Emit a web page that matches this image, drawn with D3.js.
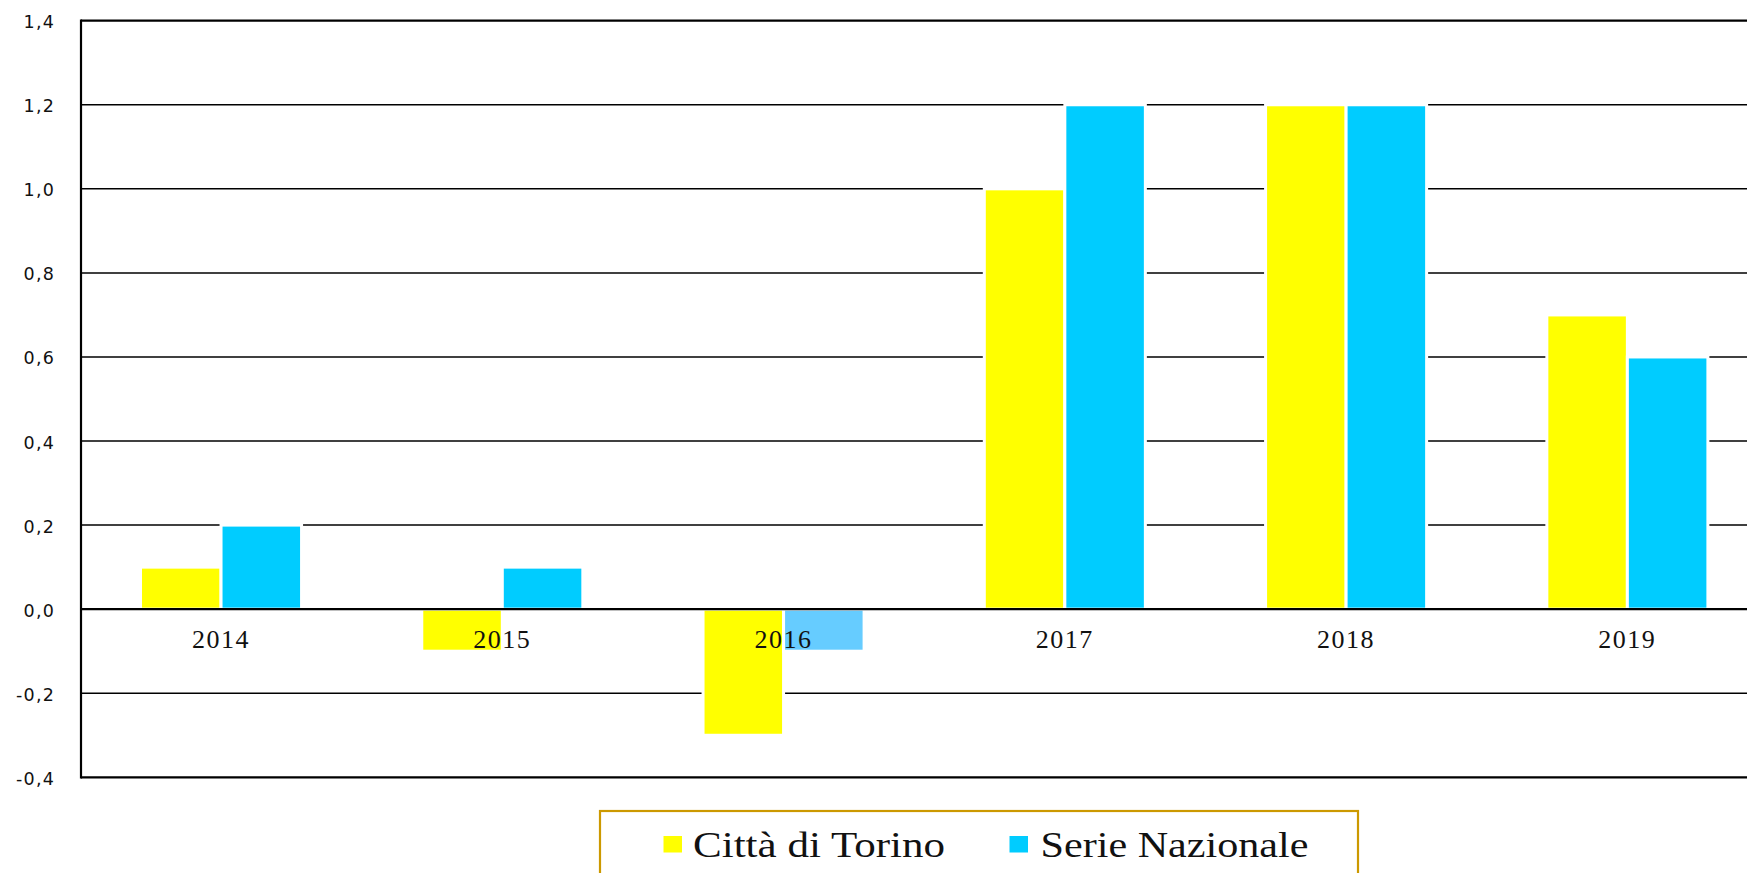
<!DOCTYPE html>
<html>
<head>
<meta charset="utf-8">
<script src="https://cdn.jsdelivr.net/npm/d3@7/dist/d3.min.js"></script>
<style>
  html, body { margin: 0; padding: 0; background: #fff; }
  svg { display: block; }
</style>
</head>
<body>
<svg id="chart" width="1747" height="873"></svg>
<script>
// ---- data ----
const years = ["2014", "2015", "2016", "2017", "2018", "2019"];
const torino = [0.1, -0.1, -0.3, 1.0, 1.2, 0.7];
const nazionale = [0.2, 0.1, -0.1, 1.2, 1.2, 0.6];
const seriesNames = ["Città di Torino", "Serie Nazionale"];
const yTicks = [-0.4, -0.2, 0.0, 0.2, 0.4, 0.6, 0.8, 1.0, 1.2, 1.4];

(function () {
const colors = { pos: ["#FFFF00", "#00CCFF"], neg: ["#FFFF00", "#66CCFF"] };

const svg = d3.select("#chart");
const W = 1747;

const plotL = 81, plotR = 1768, plotT = 20.7, plotB = 777.3;

const x0 = d3.scaleBand().domain(years).range([plotL - 0.6, plotR]).paddingInner(0).paddingOuter(0);
const bw = x0.bandwidth() * 0.2863;
const x1 = d3.scaleBand().domain([0, 1]).range([0, 2 * bw]);
const y = d3.scaleLinear().domain([-0.4, 1.4]).range([plotB, plotT]);

const loc = d3.formatLocale({ decimal: ",", thousands: ".", grouping: [3], currency: ["€", ""], minus: "-" });
const fmt = loc.format(".1f");

// gridlines (behind bars)
svg.append("g").selectAll("line")
  .data(yTicks.filter(t => t !== 0 && t !== -0.4 && t !== 1.4))
  .join("line")
  .attr("x1", plotL).attr("x2", W)
  .attr("y1", d => y(d)).attr("y2", d => y(d))
  .attr("stroke", "#000").attr("stroke-width", 1.5);

// bars
const rows = years.map((yr, i) => ({ yr, vals: [torino[i], nazionale[i]] }));
svg.append("g").selectAll("g.cat").data(rows).join("g")
  .attr("class", "cat")
  .attr("transform", d => `translate(${x0(d.yr) + x0.bandwidth() / 2 - bw},0)`)
  .selectAll("rect")
  .data(d => d.vals.map((v, k) => ({ v, k })))
  .join("rect")
  .attr("x", d => x1(d.k))
  .attr("width", x1.bandwidth())
  .attr("y", d => Math.min(y(d.v), y(0)))
  .attr("height", d => Math.abs(y(d.v) - y(0)))
  .attr("fill", d => d.v < 0 ? colors.neg[d.k] : colors.pos[d.k])
  .attr("stroke", "#fff").attr("stroke-width", 3);

// frame / axis lines on top
[0, 1.4, -0.4].forEach(v => {
  svg.append("line").attr("x1", plotL).attr("x2", W).attr("y1", y(v)).attr("y2", y(v))
    .attr("stroke", "#000").attr("stroke-width", 2.3);
});
svg.append("line").attr("x1", plotL).attr("x2", plotL).attr("y1", y(1.4) - 1.1).attr("y2", y(-0.4) + 1.1)
  .attr("stroke", "#000").attr("stroke-width", 2.2);

// y tick labels
svg.append("g").selectAll("text").data(yTicks).join("text")
  .attr("x", 55).attr("y", d => y(d) + 7.5)
  .attr("text-anchor", "end")
  .attr("font-family", "'DejaVu Sans', Verdana, sans-serif")
  .attr("font-size", 17.5)
  .attr("letter-spacing", 1.2)
  .attr("fill", "#111")
  .text(d => fmt(d));

// x category labels
svg.append("g").selectAll("text").data(years).join("text")
  .attr("x", d => x0(d) + x0.bandwidth() / 2)
  .attr("y", 648)
  .attr("text-anchor", "middle")
  .attr("font-family", "'Liberation Serif', 'Times New Roman', serif")
  .attr("font-size", 26)
  .attr("letter-spacing", 1.5)
  .attr("fill", "#111")
  .text(d => d);

// legend
const lg = svg.append("g");
lg.append("rect").attr("x", 600).attr("y", 811).attr("width", 758).attr("height", 120)
  .attr("fill", "#fff").attr("stroke", "#CC9900").attr("stroke-width", 2.2);
const legendItems = [
  { name: seriesNames[0], color: colors.pos[0], sx: 663.5, tx: 693, tw: 252 },
  { name: seriesNames[1], color: colors.pos[1], sx: 1009.5, tx: 1040.5, tw: 268 }
];
legendItems.forEach(it => {
  lg.append("rect").attr("x", it.sx).attr("y", 836).attr("width", 18.5).attr("height", 16.5).attr("fill", it.color);
  lg.append("text").attr("x", it.tx).attr("y", 856.5)
    .attr("font-family", "'Liberation Serif', 'Times New Roman', serif")
    .attr("font-size", 35)
    .attr("textLength", it.tw).attr("lengthAdjust", "spacingAndGlyphs")
    .attr("fill", "#111")
    .text(it.name);
});
})();
</script>
</body>
</html>
